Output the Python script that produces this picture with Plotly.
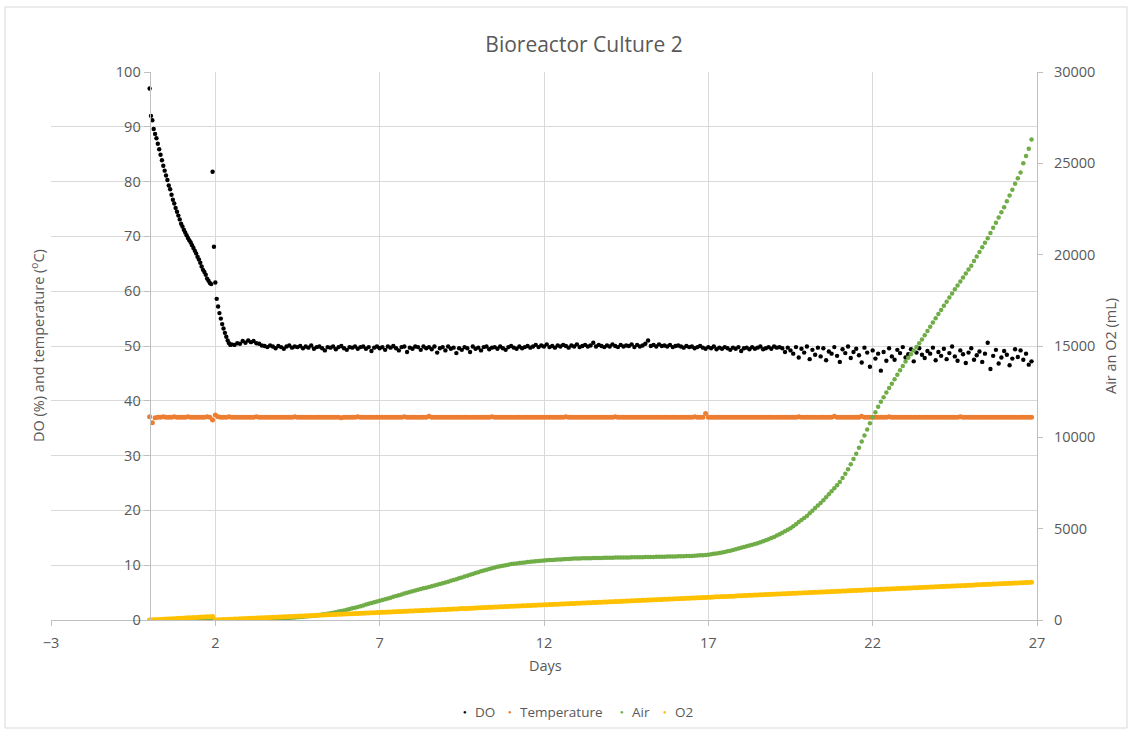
import plotly.graph_objects as go

# ---------------------------------------------------------------
# Bioreactor Culture 2 - logged process data
# ---------------------------------------------------------------
# Logging intervals of the controller export
DO_EARLY_STEP_H = 1        # DO logged hourly during the first 2.5 days
DO_LATE_START_DAY = 2.5    # start of the 2-hourly DO log
LOG_STEP_H = 2             # 2-hourly log for DO (late), temperature, air, O2

# Dissolved oxygen (%), hourly, day 0 - 2.46
do_early = [
    97.0, 92.0, 91.2, 89.6, 88.7, 87.9, 86.9, 85.9, 84.9, 83.9, 82.9, 82.0,
    81.1, 80.3, 79.3, 78.6, 77.6, 76.7, 76.0, 75.2, 74.5, 73.8, 73.1, 72.3,
    71.8, 71.2, 70.7, 70.2, 69.7, 69.3, 68.9, 68.4, 67.9, 67.4, 66.9, 66.3,
    65.8, 65.2, 64.5, 63.9, 63.5, 63.0, 62.3, 61.9, 61.5, 61.3, 81.8, 68.1,
    61.6, 58.6, 57.2, 56.0, 55.0, 54.0, 53.2, 52.4, 51.7, 51.0, 50.5, 50.2,
]

# Dissolved oxygen (%), 2-hourly from day 2.5
do_late = [
    50.3, 50.2, 50.5, 50.4, 50.9, 50.6, 51.0, 50.7, 50.9, 50.5, 50.4, 50.1,
    50.0, 49.8, 50.1, 49.9, 49.6, 50.0, 49.8, 49.5, 49.9, 50.1, 49.7, 49.9,
    49.8, 50.0, 49.6, 49.9, 49.7, 50.1, 49.5, 49.8, 49.9, 49.6, 49.2, 49.8,
    49.7, 49.9, 49.4, 49.8, 50.0, 49.6, 49.3, 49.8, 49.7, 49.9, 49.5, 49.8,
    49.9, 49.5, 49.8, 49.1, 49.7, 49.9, 49.6, 49.8, 49.3, 49.9, 49.7, 50.0,
    49.6, 49.2, 49.8, 49.9, 48.9, 49.7, 49.5, 49.9, 49.8, 49.3, 49.9, 49.6,
    49.8, 49.4, 49.9, 48.8, 49.6, 49.8, 49.2, 49.9, 49.5, 49.7, 48.7, 49.6,
    49.3, 49.8, 49.6, 48.9, 49.9, 49.5, 49.7, 49.2, 49.8, 49.9, 49.4, 49.7,
    49.8, 49.5, 49.9, 49.6, 49.3, 49.8, 50.0, 49.7, 49.5, 49.9, 49.6, 49.8,
    50.0, 49.7, 49.9, 50.2, 49.8, 50.1, 49.9, 50.3, 49.8, 50.0, 49.7, 50.1,
    49.9, 50.2, 50.0, 49.7, 50.1, 49.9, 50.3, 49.8, 50.0, 50.2, 49.9, 50.1,
    50.6, 49.9, 50.2, 50.0, 49.8, 50.1, 49.9, 50.3, 50.0, 49.8, 50.2, 49.9,
    50.1, 50.0, 50.3, 49.8, 50.2, 49.9, 50.1, 50.4, 51.0, 50.0, 50.2, 49.9,
    50.3, 50.0, 50.1, 49.9, 50.2, 49.8, 50.0, 50.1, 49.9, 49.7, 50.0, 49.8,
    49.9, 49.6, 49.8, 50.0, 49.7, 49.5, 49.8, 49.6, 49.9, 49.4, 49.7, 49.5,
    49.8, 49.6, 49.3, 49.7, 49.5, 49.8, 49.1, 49.6, 49.7, 49.4, 49.8, 49.5,
    49.7, 49.9, 49.4, 49.6, 49.8, 49.5, 49.9, 49.7, 49.8, 49.6, 48.9, 49.7,
    49.2, 48.6, 49.8, 47.9, 49.5, 48.8, 49.9, 47.6, 49.3, 48.4, 49.7, 48.1,
    49.6, 47.4, 49.0, 48.6, 49.8, 48.2, 47.1, 49.4, 48.7, 49.9, 47.8, 48.9,
    49.5, 48.3, 47.0, 49.7, 48.8, 46.2, 49.2, 47.7, 48.6, 45.5, 48.9, 47.3,
    49.6, 48.1, 47.5, 49.3, 48.7, 49.8, 47.9, 48.5, 49.4, 47.2, 48.8, 49.6,
    48.4, 47.8, 49.1, 48.6, 49.7, 47.4, 48.9, 48.2, 49.5, 47.6, 48.7, 49.9,
    48.1, 47.3, 49.2, 48.5, 46.9, 48.8, 49.6, 47.5, 48.3, 49.0, 47.1, 48.6,
    50.6, 45.8, 48.2, 49.3, 46.8, 47.9, 49.1, 48.4, 46.5, 47.7, 49.4, 48.0,
    49.2, 47.5, 48.6, 46.6, 47.2,
]

# Temperature (deg C), 2-hourly from day 0
temperature = [
    37.1, 36.0, 36.9, 37.0, 37.0, 37.1, 37.0, 37.0, 37.0, 37.1, 37.0, 37.0,
    37.0, 37.0, 37.1, 37.0, 37.0, 37.0, 37.0, 37.0, 37.0, 37.1, 37.0, 36.5,
    37.4, 37.1, 37.0, 37.0, 37.0, 37.1, 37.0, 37.0, 37.0, 37.0, 37.0, 37.0,
    37.0, 37.0, 37.0, 37.1, 37.0, 37.0, 37.0, 37.0, 37.0, 37.0, 37.0, 37.0,
    37.0, 37.0, 37.0, 37.0, 37.0, 37.1, 37.0, 37.0, 37.0, 37.0, 37.0, 37.0,
    37.0, 37.0, 37.0, 37.0, 37.0, 37.0, 37.0, 37.0, 37.0, 37.0, 36.9, 37.0,
    37.0, 37.0, 37.0, 37.0, 37.1, 37.0, 37.0, 37.0, 37.0, 37.0, 37.0, 37.0,
    37.0, 37.0, 37.0, 37.0, 37.0, 37.0, 37.0, 37.0, 37.0, 37.1, 37.0, 37.0,
    37.0, 37.0, 37.0, 37.0, 37.0, 37.0, 37.2, 37.0, 37.0, 37.0, 37.0, 37.0,
    37.0, 37.0, 37.0, 37.0, 37.0, 37.0, 37.0, 37.0, 37.0, 37.0, 37.0, 37.0,
    37.0, 37.0, 37.0, 37.0, 37.0, 37.1, 37.0, 37.0, 37.0, 37.0, 37.0, 37.0,
    37.0, 37.0, 37.0, 37.0, 37.0, 37.0, 37.0, 37.0, 37.0, 37.0, 37.0, 37.0,
    37.0, 37.0, 37.0, 37.0, 37.0, 37.0, 37.0, 37.0, 37.1, 37.0, 37.0, 37.0,
    37.0, 37.0, 37.0, 37.0, 37.0, 37.0, 37.0, 37.0, 37.0, 37.0, 37.0, 37.0,
    37.0, 37.0, 37.1, 37.0, 37.0, 37.0, 37.0, 37.0, 37.0, 37.0, 37.0, 37.0,
    37.0, 37.0, 37.0, 37.0, 37.0, 37.0, 37.0, 37.0, 37.0, 37.0, 37.0, 37.0,
    37.0, 37.0, 37.0, 37.0, 37.0, 37.0, 37.0, 37.1, 37.0, 37.0, 37.0, 37.7,
    37.0, 37.0, 37.0, 37.0, 37.0, 37.0, 37.0, 37.0, 37.0, 37.0, 37.0, 37.0,
    37.0, 37.0, 37.0, 37.0, 37.0, 37.0, 37.0, 37.0, 37.0, 37.0, 37.0, 37.0,
    37.0, 37.0, 37.0, 37.0, 37.0, 37.0, 37.0, 37.0, 37.0, 37.1, 37.0, 37.0,
    37.0, 37.0, 37.0, 37.0, 37.0, 37.0, 37.0, 37.0, 37.0, 37.0, 37.2, 37.0,
    37.0, 37.0, 37.0, 37.0, 37.0, 37.0, 37.0, 37.0, 37.2, 37.0, 37.0, 37.0,
    37.0, 37.0, 37.0, 37.0, 37.0, 37.0, 37.1, 37.0, 37.0, 37.0, 37.0, 37.0,
    37.0, 37.0, 37.0, 37.0, 37.0, 37.0, 37.0, 37.0, 37.0, 37.0, 37.0, 37.0,
    37.0, 37.0, 37.0, 37.0, 37.0, 37.0, 37.0, 37.0, 37.1, 37.0, 37.0, 37.0,
    37.0, 37.0, 37.0, 37.0, 37.0, 37.0, 37.0, 37.0, 37.0, 37.0, 37.0, 37.0,
    37.0, 37.0, 37.0, 37.0, 37.0, 37.0, 37.0, 37.0, 37.0, 37.0, 37.0,
]

# Cumulative air (mL), 2-hourly from day 0
air_ml = [
    0, 0, 0, 0, 0, 0, 0, 0, 0, 0, 0, 0,
    0, 0, 0, 0, 0, 0, 0, 0, 0, 0, 0, 0,
    0, 1, 2, 3, 4, 5, 6, 8, 10, 12, 15, 17,
    20, 23, 26, 29, 32, 36, 40, 46, 53, 61, 70, 80,
    90, 99, 108, 118, 128, 139, 150, 162, 175, 189, 204, 217,
    230, 251, 273, 296, 320, 345, 370, 399, 428, 459, 491, 525,
    560, 598, 637, 677, 718, 759, 800, 842, 884, 926, 968, 1009,
    1050, 1093, 1137, 1180, 1223, 1267, 1310, 1355, 1400, 1445, 1490, 1535,
    1580, 1618, 1657, 1695, 1733, 1772, 1810, 1850, 1890, 1930, 1970, 2010,
    2050, 2097, 2143, 2190, 2237, 2283, 2330, 2378, 2427, 2475, 2523, 2572,
    2620, 2663, 2707, 2750, 2793, 2837, 2880, 2910, 2940, 2970, 3000, 3030,
    3060, 3078, 3097, 3115, 3133, 3152, 3170, 3185, 3200, 3215, 3230, 3245,
    3260, 3269, 3278, 3288, 3297, 3306, 3315, 3324, 3333, 3342, 3352, 3361,
    3370, 3373, 3377, 3380, 3383, 3387, 3390, 3393, 3397, 3400, 3403, 3407,
    3410, 3413, 3415, 3418, 3420, 3423, 3425, 3428, 3430, 3433, 3435, 3438,
    3440, 3443, 3447, 3450, 3453, 3457, 3460, 3463, 3467, 3470, 3473, 3477,
    3480, 3485, 3490, 3495, 3500, 3505, 3510, 3520, 3530, 3540, 3550, 3560,
    3570, 3595, 3620, 3645, 3670, 3695, 3720, 3758, 3797, 3835, 3873, 3912,
    3950, 3992, 4033, 4075, 4117, 4158, 4200, 4257, 4313, 4370, 4427, 4483,
    4540, 4620, 4700, 4780, 4860, 4940, 5020, 5133, 5247, 5360, 5473, 5587,
    5700, 5842, 5983, 6125, 6267, 6408, 6550, 6717, 6883, 7050, 7217, 7383,
    7550, 7780, 8010, 8250, 8530, 8810, 9100, 9430, 9770, 10100, 10430, 10770,
    11100, 11380, 11670, 11950, 12200, 12450, 12700, 12940, 13180, 13430, 13670, 13910,
    14150, 14350, 14550, 14750, 14950, 15150, 15350, 15583, 15817, 16050, 16283, 16517,
    16750, 16975, 17200, 17425, 17650, 17875, 18100, 18317, 18533, 18750, 18967, 19183,
    19400, 19650, 19900, 20150, 20400, 20650, 20900, 21183, 21467, 21750, 22033, 22317,
    22600, 22920, 23240, 23560, 23880, 24190, 24500, 25000, 25400, 25800, 26300,
]

# Cumulative O2 (mL), 2-hourly from day 0 (counter reset at day 2)
o2_ml = [
    0, 8, 17, 25, 33, 42, 50, 58, 67, 75, 83, 92,
    100, 108, 117, 125, 133, 142, 150, 158, 167, 175, 183, 192,
    0, 7, 14, 21, 28, 35, 42, 48, 55, 62, 69, 76,
    83, 90, 97, 104, 111, 118, 125, 131, 138, 145, 152, 159,
    166, 173, 180, 187, 194, 201, 208, 214, 221, 228, 235, 242,
    249, 256, 263, 270, 277, 284, 291, 297, 304, 311, 318, 325,
    332, 339, 346, 353, 360, 367, 374, 380, 387, 394, 401, 408,
    415, 422, 429, 436, 443, 450, 457, 463, 470, 477, 484, 491,
    498, 505, 512, 519, 526, 533, 540, 546, 553, 560, 567, 574,
    581, 588, 595, 602, 609, 616, 623, 629, 636, 643, 650, 657,
    664, 671, 678, 685, 692, 699, 706, 712, 719, 726, 733, 740,
    747, 754, 761, 768, 775, 782, 789, 795, 802, 809, 816, 823,
    830, 837, 844, 851, 858, 865, 872, 878, 885, 892, 899, 906,
    913, 920, 927, 934, 941, 948, 955, 961, 968, 975, 982, 989,
    996, 1003, 1010, 1017, 1024, 1031, 1038, 1044, 1051, 1058, 1065, 1072,
    1079, 1086, 1093, 1100, 1107, 1114, 1121, 1127, 1134, 1141, 1148, 1155,
    1162, 1169, 1176, 1183, 1190, 1197, 1204, 1210, 1217, 1224, 1231, 1238,
    1245, 1252, 1259, 1266, 1273, 1280, 1287, 1293, 1300, 1307, 1314, 1321,
    1328, 1335, 1342, 1349, 1356, 1363, 1370, 1376, 1383, 1390, 1397, 1404,
    1411, 1418, 1425, 1432, 1439, 1446, 1453, 1459, 1466, 1473, 1480, 1487,
    1494, 1501, 1508, 1515, 1522, 1529, 1536, 1542, 1549, 1556, 1563, 1570,
    1577, 1584, 1591, 1598, 1605, 1612, 1619, 1625, 1632, 1639, 1646, 1653,
    1660, 1667, 1674, 1681, 1688, 1695, 1702, 1708, 1715, 1722, 1729, 1736,
    1743, 1750, 1757, 1764, 1771, 1778, 1785, 1791, 1798, 1805, 1812, 1819,
    1826, 1833, 1840, 1847, 1854, 1861, 1868, 1874, 1881, 1888, 1895, 1902,
    1909, 1916, 1923, 1930, 1937, 1944, 1951, 1957, 1964, 1971, 1978, 1985,
    1992, 1999, 2006, 2013, 2020, 2027, 2034, 2040, 2047, 2054, 2061,
]

SERIES_NAMES = ["DO", "Temperature", "Air", "O2"]
SERIES_COLORS = ["#000000", "#ED7D31", "#70AD47", "#FFC000"]

X_RANGE = [-3, 27]
X_TICKS = [-3, 2, 7, 12, 17, 22, 27]
Y_LEFT_RANGE = [0, 100]
Y_RIGHT_RANGE = [0, 30000]

# Time stamps (days) from the logging intervals
do_days = ([i * DO_EARLY_STEP_H / 24 for i in range(len(do_early))]
           + [DO_LATE_START_DAY + i * LOG_STEP_H / 24 for i in range(len(do_late))])
do_values = do_early + do_late
log_days = [i * LOG_STEP_H / 24 for i in range(len(temperature))]

TEXT = "#595959"
GRID = "#d9d9d9"
AXIS = "#bfbfbf"
FONT = "Open Sans, Segoe UI, Arial, sans-serif"

fig = go.Figure()
fig.add_trace(go.Scatter(x=do_days, y=do_values, name=SERIES_NAMES[0], mode="markers",
                         marker=dict(color=SERIES_COLORS[0], size=4.4, line=dict(width=0))))
fig.add_trace(go.Scatter(x=log_days, y=temperature, name=SERIES_NAMES[1], mode="markers",
                         marker=dict(color=SERIES_COLORS[1], size=5, line=dict(width=0))))
fig.add_trace(go.Scatter(x=log_days, y=air_ml, name=SERIES_NAMES[2], mode="markers", yaxis="y2",
                         marker=dict(color=SERIES_COLORS[2], size=4.5, line=dict(width=0))))
fig.add_trace(go.Scatter(x=log_days, y=o2_ml, name=SERIES_NAMES[3], mode="markers", yaxis="y2",
                         marker=dict(color=SERIES_COLORS[3], size=5, line=dict(width=0))))

# Plot area in pixels: x 51..1037, y 72..620
L, R, T, B = 51, 95, 72, 113
W, H = 1132, 733
pw, ph = W - L - R, H - T - B


def px_x(px):
    return (px - L) / pw


def px_y(py):
    return (H - B - py) / ph


TICK_FONT = dict(size=14.5, color=TEXT)

fig.update_layout(
    width=W, height=H,
    margin=dict(l=L, r=R, t=T, b=B, autoexpand=False),
    paper_bgcolor="white", plot_bgcolor="white",
    font=dict(family=FONT, color=TEXT, size=13),
    showlegend=False,
    title=dict(text="Bioreactor Culture 2", font=dict(size=21, color=TEXT),
               x=px_x(584), xref="paper", xanchor="center",
               y=1 - 45 / H, yref="container", yanchor="middle"),
    xaxis=dict(range=X_RANGE, tickmode="array", tickvals=X_TICKS,
               showgrid=True, gridcolor=GRID, gridwidth=1,
               showline=True, linecolor=AXIS, linewidth=1,
               ticks="outside", ticklen=5, tickcolor=AXIS, ticklabelstandoff=5,
               zeroline=False, tickfont=TICK_FONT),
    yaxis=dict(range=Y_LEFT_RANGE, dtick=10, anchor="free",
               position=(0 - X_RANGE[0]) / (X_RANGE[1] - X_RANGE[0]),
               showgrid=True, gridcolor=GRID, gridwidth=1,
               showline=True, linecolor=AXIS, linewidth=1,
               ticks="outside", ticklen=6, tickcolor=AXIS,
               zeroline=False, tickfont=TICK_FONT),
    yaxis2=dict(range=Y_RIGHT_RANGE, dtick=5000, overlaying="y", side="right",
                anchor="x", showgrid=False,
                showline=True, linecolor=AXIS, linewidth=1,
                ticks="outside", ticklen=5, tickcolor=AXIS,
                zeroline=False, tickformat="d", ticklabelstandoff=8,
                tickfont=TICK_FONT),
)

# Axis titles
fig.add_annotation(text="Days", x=px_x(545), y=px_y(665), xref="paper", yref="paper",
                   xanchor="center", yanchor="middle",
                   showarrow=False, font=dict(size=14.5, color=TEXT))
fig.add_annotation(text="DO (%) and temperature (<sup>o</sup>C)", x=px_x(37), y=px_y(346),
                   xref="paper", yref="paper", xanchor="center", yanchor="middle",
                   textangle=-90, showarrow=False, font=dict(size=14.5, color=TEXT))
fig.add_annotation(text="Air an O2 (mL)", x=px_x(1110), y=px_y(346),
                   xref="paper", yref="paper", xanchor="center", yanchor="middle",
                   textangle=-90, showarrow=False, font=dict(size=14.5, color=TEXT))

# Legend row below the axis: marker dot + series name
LEGEND_DOT_PX = [465, 510, 622, 665]
LEGEND_Y_PX = 712
for name, color, dot_px in zip(SERIES_NAMES, SERIES_COLORS, LEGEND_DOT_PX):
    fig.add_annotation(text="\u25cf", x=px_x(dot_px), y=px_y(LEGEND_Y_PX),
                       xref="paper", yref="paper", xanchor="center", yanchor="middle",
                       showarrow=False, font=dict(size=6, color=color))
    fig.add_annotation(text=name, x=px_x(dot_px + 8), y=px_y(LEGEND_Y_PX),
                       xref="paper", yref="paper", xanchor="left", yanchor="middle",
                       showarrow=False, font=dict(size=13.5, color=TEXT))

# Chart area border
fig.add_shape(type="rect", xref="paper", yref="paper",
              x0=px_x(5), x1=px_x(1127), y0=px_y(728), y1=px_y(7),
              line=dict(color=GRID, width=1), fillcolor="rgba(0,0,0,0)", layer="below")

fig.write_html("out.html")
